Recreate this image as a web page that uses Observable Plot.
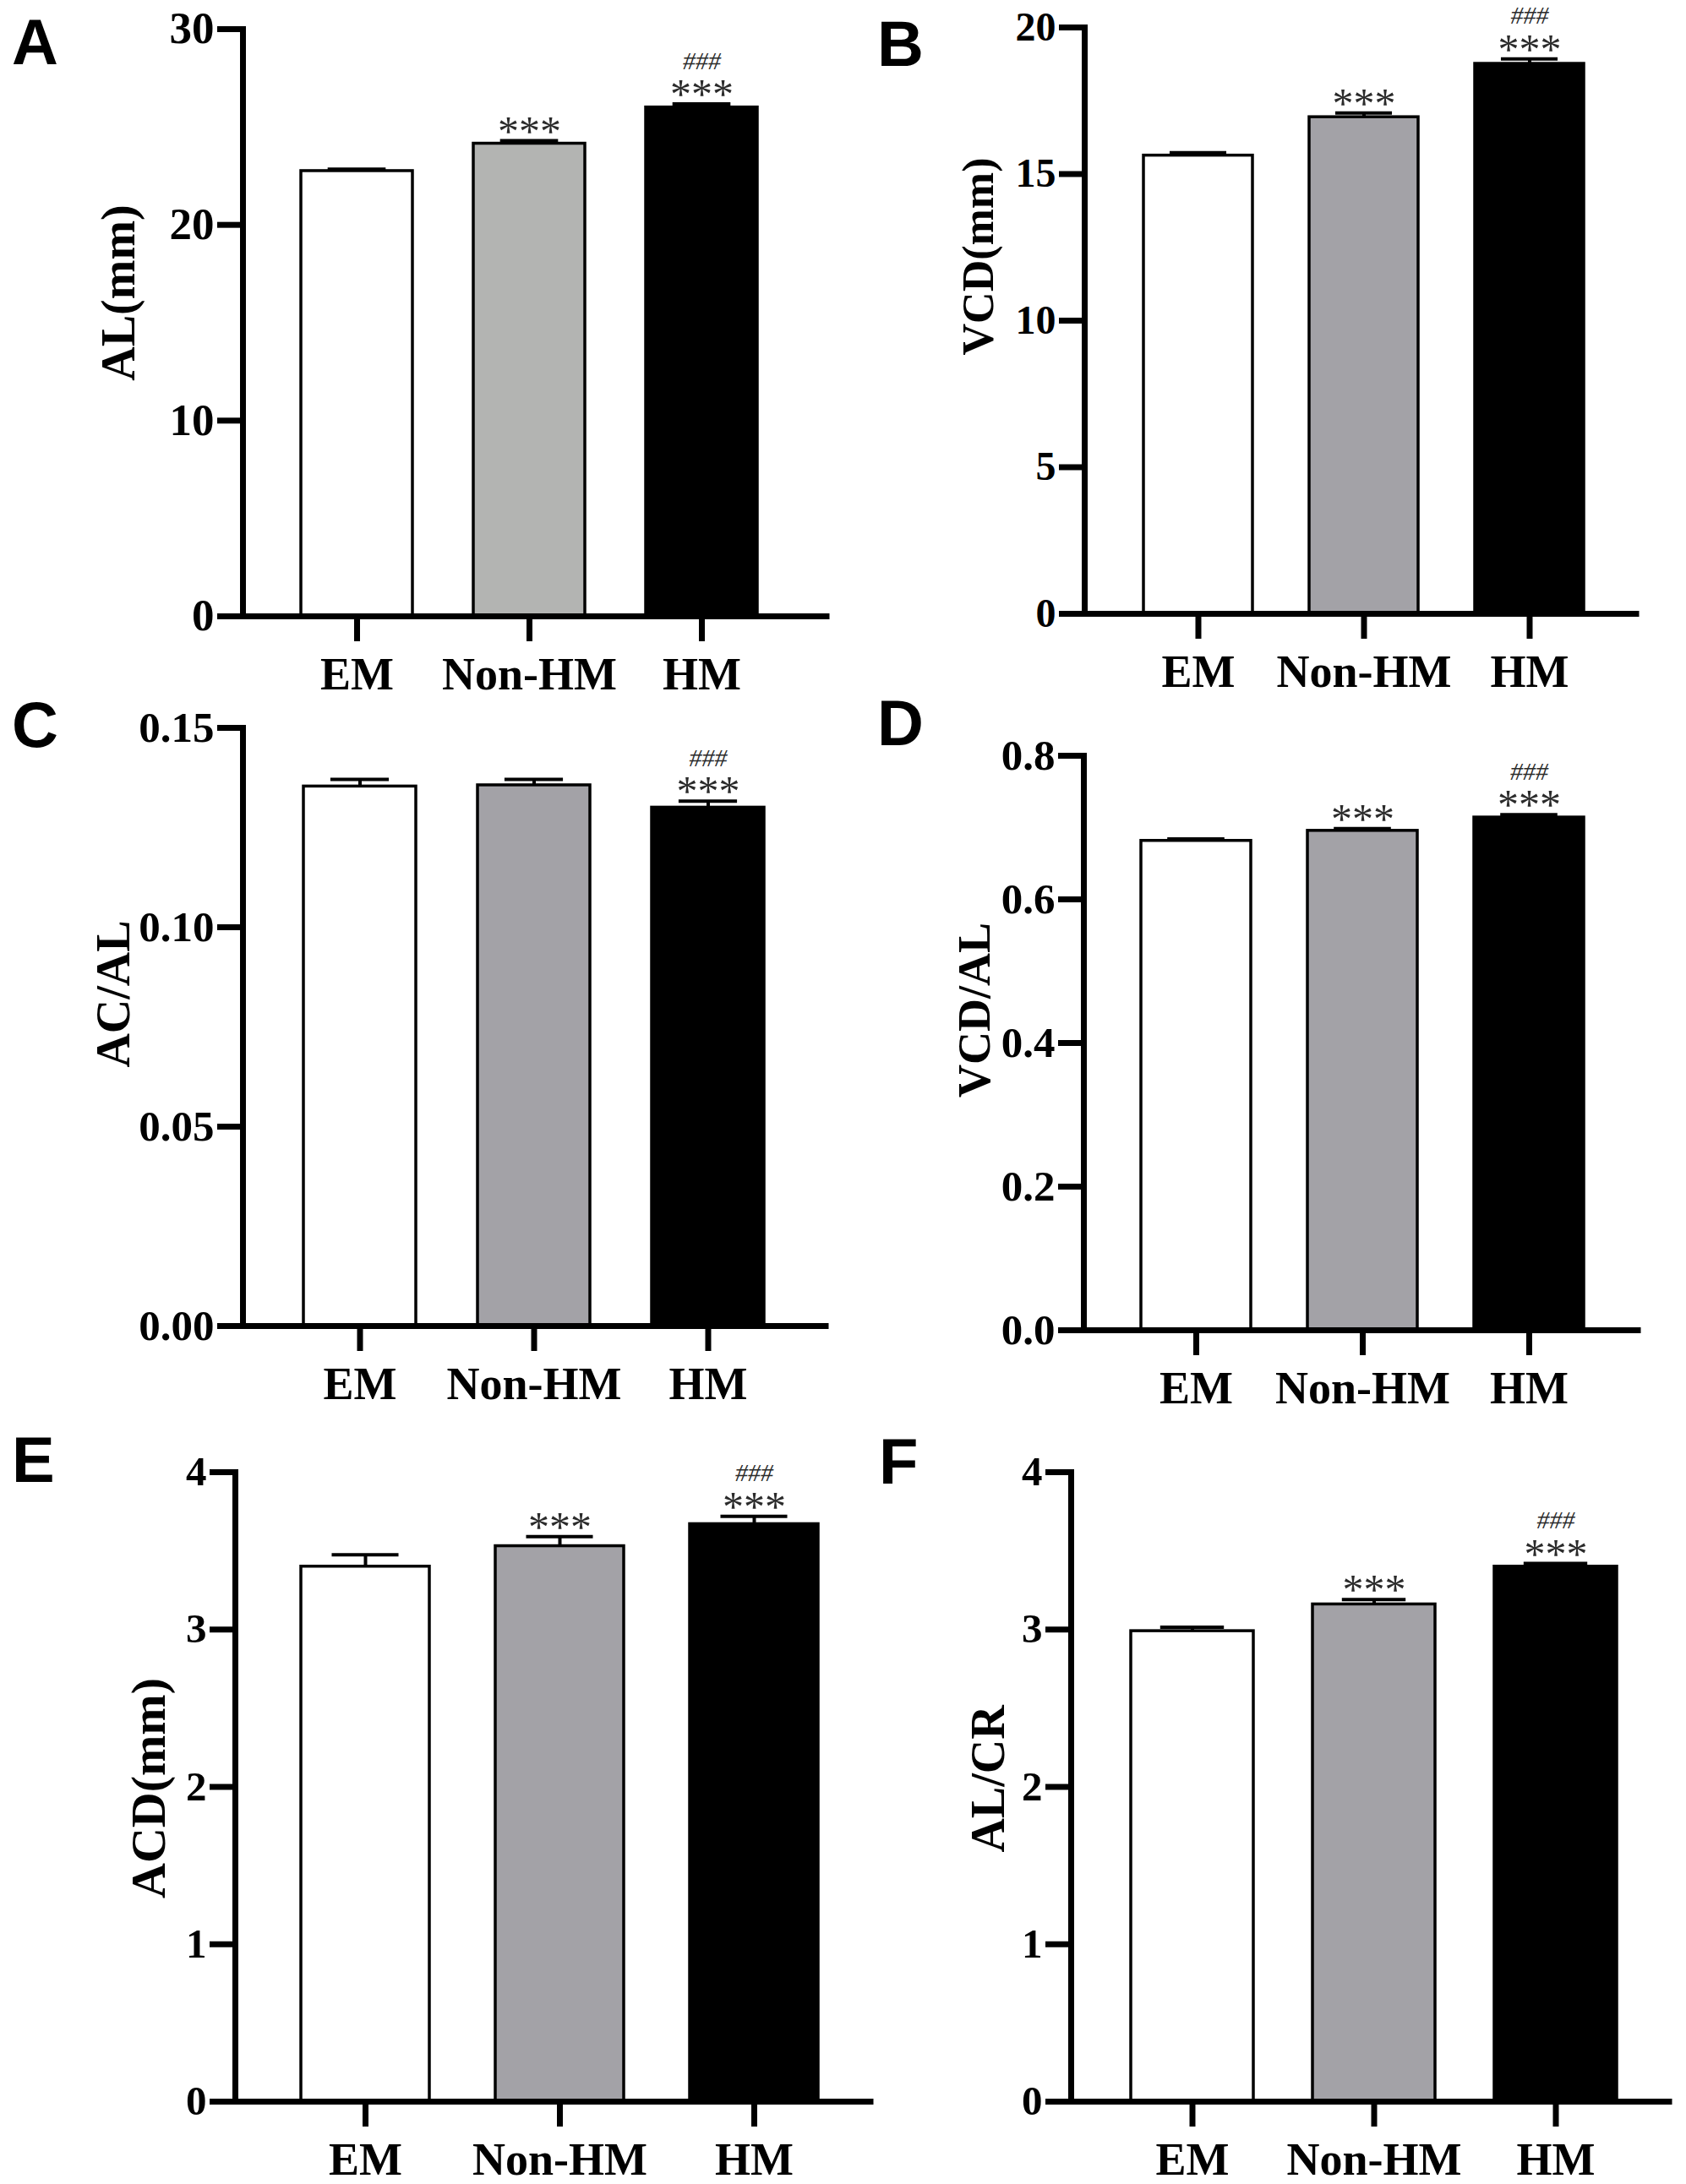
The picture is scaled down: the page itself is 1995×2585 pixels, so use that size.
<!DOCTYPE html>
<html>
<head>
<meta charset="utf-8">
<script src="https://cdn.jsdelivr.net/npm/d3@7"></script>
<script src="https://cdn.jsdelivr.net/npm/@observablehq/plot@0.6"></script>
<style>
  html, body { margin: 0; padding: 0; background: #fff; }
  #page { position: relative; width: 1995px; height: 2585px; background: #fff; overflow: hidden; }
  .panel { position: absolute; }
  .panel svg { background: transparent !important; max-width: none !important; }
  .letter { position: absolute; font-family: "Liberation Sans", Arial, sans-serif; font-weight: bold;
            font-size: 76px; line-height: 1; color: #000; }
</style>
</head>
<body>
<div id="page"></div>
<script>
// ---------------- data ----------------
const groups = ["EM", "Non-HM", "HM"];

const alMeans = [22.75, 24.15, 26.0];
const alErrs  = [0.10, 0.15, 0.18];

const vcdMeans = [15.63, 16.94, 18.76];
const vcdErrs  = [0.10, 0.14, 0.17];

const acAlMeans = [0.1353, 0.1356, 0.1300];
const acAlErrs  = [0.0018, 0.0015, 0.0016];

const vcdAlMeans = [0.6815, 0.6955, 0.714];
const vcdAlErrs  = [0.0025, 0.003, 0.004];

const acdMeans = [3.40, 3.53, 3.67];
const acdErrs  = [0.075, 0.06, 0.05];

const alCrMeans = [2.99, 3.16, 3.40];
const alCrErrs  = [0.025, 0.03, 0.02];

const starsAll   = ["", "***", "***"];
const starsHM    = ["", "", "***"];
const hashHM     = ["", "", "###"];

const ticksAL    = [0, 10, 20, 30];
const ticksVCD   = [0, 5, 10, 15, 20];
const ticksACAL  = [0, 0.05, 0.10, 0.15];
const ticksVCDAL = [0, 0.2, 0.4, 0.6, 0.8];
const ticksACD   = [0, 1, 2, 3, 4];
const ticksALCR  = [0, 1, 2, 3, 4];

const fillsLight = ["#ffffff", "#b3b4b2", "#000000"];
const fillsGray  = ["#ffffff", "#a3a2a7", "#000000"];

// ---------------- layout (page pixels) ----------------
const panels = [
  {letter: "A", lx: 14, ly: 12, label: "AL(mm)", means: alMeans, errs: alErrs, stars: starsAll, hash: hashHM,
   ticks: ticksAL, fmt: d3.format("d"), fills: fillsLight, tickFont: 53, labelFont: 56,
   left: 0, top: 0, w: 1000, h: 830, axisX: 287, axisEnd: 978, barL: 356, barR: 896, bw: 132,
   yTop: 34, y0: 729, labelCX: 141, labelCY: 346},
  {letter: "B", lx: 1038, ly: 14, label: "VCD(mm)", means: vcdMeans, errs: vcdErrs, stars: starsAll, hash: hashHM,
   ticks: ticksVCD, fmt: d3.format("d"), fills: fillsGray, tickFont: 48, labelFont: 52,
   left: 995, top: 0, w: 1000, h: 830, axisX: 1283, axisEnd: 1936, barL: 1352, barR: 1874, bw: 129,
   yTop: 32, y0: 726, labelCX: 1158, labelCY: 303},
  {letter: "C", lx: 14, ly: 820, label: "AC/AL", means: acAlMeans, errs: acAlErrs, stars: starsHM, hash: hashHM,
   ticks: ticksACAL, fmt: d3.format(".2f"), fills: fillsGray, tickFont: 51, labelFont: 56,
   left: 0, top: 830, w: 1000, h: 860, axisX: 287, axisEnd: 977, barL: 358, barR: 904, bw: 133,
   yTop: 861, y0: 1569, labelCX: 135, labelCY: 1176},
  {letter: "D", lx: 1038, ly: 818, label: "VCD/AL", means: vcdAlMeans, errs: vcdAlErrs, stars: starsAll, hash: hashHM,
   ticks: ticksVCDAL, fmt: d3.format(".1f"), fills: fillsGray, tickFont: 51, labelFont: 54,
   left: 995, top: 830, w: 1000, h: 860, axisX: 1282, axisEnd: 1938, barL: 1350, barR: 1874, bw: 130,
   yTop: 894, y0: 1574, labelCX: 1153, labelCY: 1195},
  {letter: "E", lx: 14, ly: 1690, label: "ACD(mm)", means: acdMeans, errs: acdErrs, stars: starsAll, hash: hashHM,
   ticks: ticksACD, fmt: d3.format("d"), fills: fillsGray, tickFont: 49, labelFont: 58,
   left: 0, top: 1690, w: 1040, h: 895, axisX: 278, axisEnd: 1030, barL: 355, barR: 968, bw: 152,
   yTop: 1742, y0: 2487, labelCX: 176, labelCY: 2116},
  {letter: "F", lx: 1040, ly: 1692, label: "AL/CR", means: alCrMeans, errs: alCrErrs, stars: starsAll, hash: hashHM,
   ticks: ticksALCR, fmt: d3.format("d"), fills: fillsGray, tickFont: 49, labelFont: 56,
   left: 995, top: 1690, w: 1000, h: 895, axisX: 1267, axisEnd: 1975, barL: 1338, barR: 1913, bw: 145,
   yTop: 1742, y0: 2487, labelCX: 1170, labelCY: 2105}
];

const page = document.getElementById("page");
const serif = "'Liberation Serif', 'Times New Roman', serif";

for (const p of panels) {
  const rows = groups.map((g, i) => ({
    g, v: p.means[i], top: p.means[i] + p.errs[i], fill: p.fills[i], stars: p.stars[i], hash: p.hash[i]
  }));
  const range = [p.barL - p.left, p.barR - p.left];
  const gap = ((range[1] - range[0]) - 3 * p.bw) / 2;
  const padIn = gap / (p.bw + gap);
  const marginLeft = p.axisX - p.left;
  const marginRight = p.left + p.w - p.axisEnd;
  const marginTop = p.yTop - p.top;
  const marginBottom = p.top + p.h - p.y0;
  const frameMidY = (marginTop + (p.h - marginBottom)) / 2;
  const labelDx = (p.labelCX - p.left) - marginLeft;
  const labelDy = (p.labelCY - p.top) - frameMidY;
  const ymax = p.ticks[p.ticks.length - 1];
  const capInset = p.bw * 0.24;

  const chart = Plot.plot({
    width: p.w,
    height: p.h,
    marginLeft, marginRight, marginTop, marginBottom,
    style: {fontFamily: serif, fontWeight: "bold", fontSize: "50px", color: "#000", background: "transparent"},
    x: {type: "band", domain: groups, range, paddingInner: padIn, paddingOuter: 0, align: 0.5},
    y: {domain: [0, ymax]},
    color: {type: "identity"},
    marks: [
      Plot.barY(rows, {x: "g", y: "v", fill: "fill", stroke: "#000", strokeWidth: 3.5}),
      Plot.ruleX(rows, {x: "g", y1: "v", y2: "top", stroke: "#000", strokeWidth: 4}),
      Plot.tickY(rows, {x: "g", y: "top", stroke: "#000", strokeWidth: 4, insetLeft: capInset, insetRight: capInset}),
      Plot.text(rows.filter(d => d.stars), {x: "g", y: "top", text: "stars", dy: -11, fontSize: 50,
        fontWeight: "normal", fill: "#2b2b2b", fontFamily: serif}),
      Plot.text(rows.filter(d => d.hash), {x: "g", y: "top", text: "hash", dy: -51, fontSize: 30,
        fontWeight: "normal", fontStyle: "italic", fill: "#2b2b2b", fontFamily: serif}),
      Plot.axisY({ticks: p.ticks, tickFormat: p.fmt, tickSize: 30, tickPadding: 4, strokeWidth: 7,
        fontSize: p.tickFont, label: null}),
      Plot.axisX({tickSize: 30, tickPadding: 18, strokeWidth: 7, fontSize: 54, label: null}),
      Plot.frame({anchor: "left", stroke: "#000", strokeWidth: 7, strokeLinecap: "square"}),
      Plot.ruleY([0], {stroke: "#000", strokeWidth: 7, strokeLinecap: "square"}),
      Plot.text([p.label], {frameAnchor: "left", text: d => d, rotate: -90, dx: labelDx, dy: labelDy,
        textAnchor: "middle", lineAnchor: "middle",
        fontSize: p.labelFont, fontWeight: "bold", fill: "#000", fontFamily: serif})
    ]
  });
  const wrap = document.createElement("div");
  wrap.className = "panel";
  wrap.style.left = p.left + "px";
  wrap.style.top = p.top + "px";
  wrap.appendChild(chart);
  page.appendChild(wrap);

  const L = document.createElement("div");
  L.className = "letter";
  L.textContent = p.letter;
  L.style.left = p.lx + "px";
  L.style.top = p.ly + "px";
  page.appendChild(L);
}
</script>
</body>
</html>
